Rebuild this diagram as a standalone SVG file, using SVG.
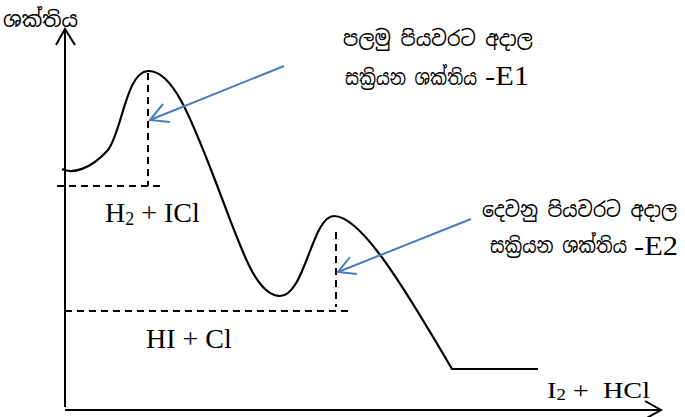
<svg xmlns="http://www.w3.org/2000/svg" width="685" height="417" viewBox="0 0 685 417">
<defs>
<style>
.ax{stroke:#000;stroke-width:2;fill:none}
.crv{stroke:#000;stroke-width:2.2;fill:none;stroke-linejoin:round}
.dash{stroke:#000;stroke-width:2;stroke-dasharray:7,5;fill:none}
.blue{stroke:#4A7EBB;stroke-width:2;fill:none}
.si{font-family:"Noto Sans Sinhala","Iskoola Pota","Noto Serif Sinhala","Noto Sans",sans-serif;font-size:21px;fill:#000}
.tm{font-family:"Liberation Serif","Times New Roman",serif;fill:#000}
</style>
</defs>
<g id="axes">
<line class="ax" x1="65" y1="407" x2="65" y2="29"/>
<polyline class="ax" points="56,45 65,29 75,45"/>
<line class="ax" x1="65" y1="410" x2="661" y2="410"/>
<polyline class="ax" points="645,401 661,410 645,419"/>
</g>
<g id="curve">
<path class="crv" d="M62,169 C72,174 90,170 108,150 C122,132 126,72 148,71 C172,70 190,115 215,180 C240,245 255,296 280,296 C305,296 312,216 334,216 C360,216 400,280 452,369 L538,369"/>
</g>
<g id="levels">
<line class="dash" x1="57" y1="186" x2="163" y2="186"/>
<line class="dash" x1="148" y1="73" x2="148" y2="186"/>
<line class="dash" x1="65" y1="311" x2="350" y2="311"/>
<line class="dash" x1="336" y1="232" x2="336" y2="307"/>
</g>
<g id="connectors">
<line class="blue" x1="284" y1="66" x2="150" y2="120"/>
<polyline class="blue" points="163,104 150,120 170,122"/>
<line class="blue" x1="471" y1="219" x2="338" y2="272"/>
<polyline class="blue" points="350,257 338,272 357,274"/>
</g>
<g id="ylabel"><text class="si" x="3" y="27" textLength="75" lengthAdjust="spacingAndGlyphs">ශක්තිය</text></g>
<g id="label-e1">
<text class="si" x="343" y="46" textLength="190" lengthAdjust="spacingAndGlyphs">පලමු පියවරට අදාල</text>
<text class="si" x="345" y="85" textLength="132" lengthAdjust="spacingAndGlyphs">සක්‍රියන ශක්තිය</text>
<text class="tm" x="485" y="85" style="font-size:28px" textLength="44" lengthAdjust="spacingAndGlyphs">-E1</text>
</g>
<g id="label-e2">
<text class="si" x="482" y="217" textLength="195" lengthAdjust="spacingAndGlyphs">දෙවනු පියවරට අදාල</text>
<text class="si" x="490" y="253" textLength="137" lengthAdjust="spacingAndGlyphs">සක්‍රියන ශක්තිය</text>
<text class="tm" x="634" y="255" style="font-size:28px" textLength="44" lengthAdjust="spacingAndGlyphs">-E2</text>
</g>
<g id="reactants"><text class="tm" x="105" y="222" style="font-size:28px">H<tspan style="font-size:18px" dy="3">2</tspan><tspan dy="-3"> + ICl</tspan></text></g>
<g id="intermediate"><text class="tm" x="146" y="348" style="font-size:28px">HI + Cl</text></g>
<g id="products"><text class="tm" x="547" y="398" style="font-size:24px" xml:space="preserve" textLength="103" lengthAdjust="spacingAndGlyphs">I<tspan style="font-size:16px" dy="2">2</tspan><tspan dy="-2"> +  HCl</tspan></text></g>
</svg>
